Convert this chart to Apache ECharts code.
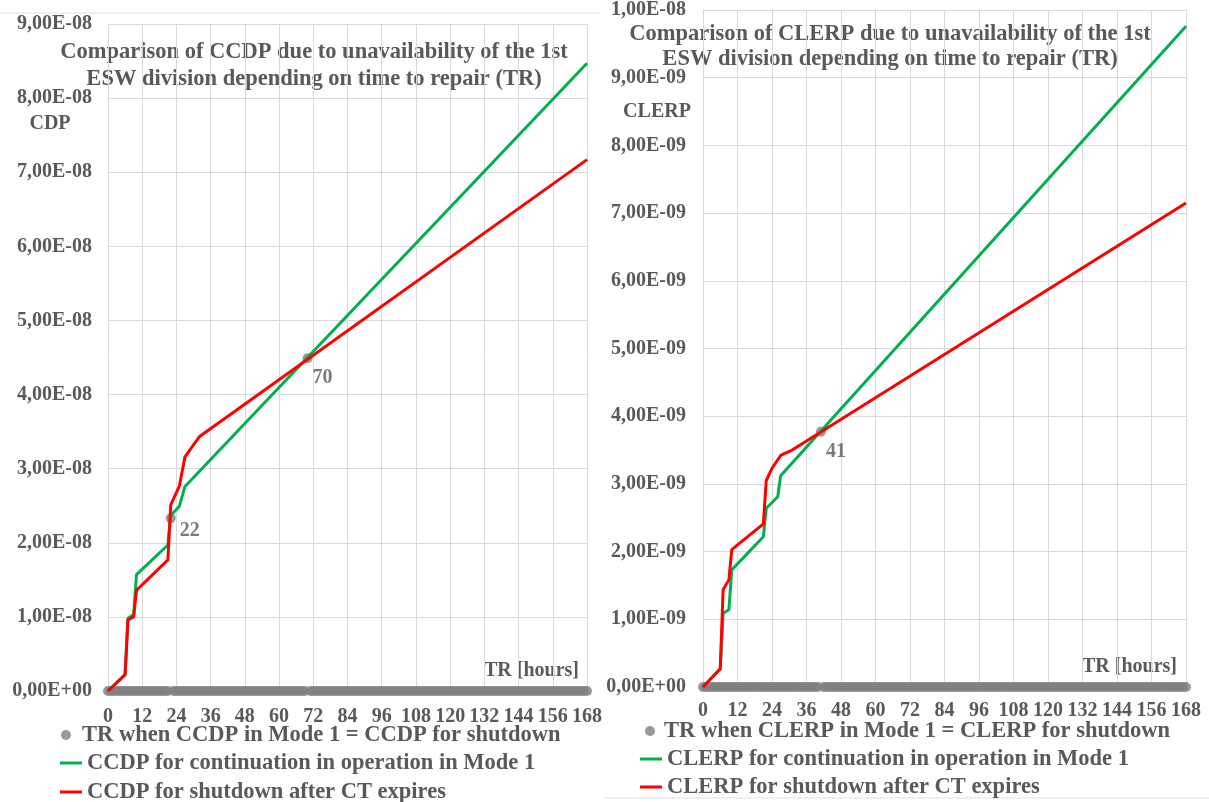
<!DOCTYPE html>
<html>
<head>
<meta charset="utf-8">
<script src="https://cdn.jsdelivr.net/npm/echarts@6/dist/echarts.min.js"></script>
<style>html,body{margin:0;padding:0;background:#fff}#c{width:1209px;height:802px}</style>
</head>
<body>
<div id="c"></div>
<script>
// ---------- DATA ----------
// Left chart: CCDP [-]
const ccdpGreenHours = [0, 6, 7, 9, 10, 21, 22, 25, 27, 168];
const ccdpGreen = [0, 0.22e-8, 0.98e-8, 1.03e-8, 1.57e-8, 1.97e-8, 2.37e-8, 2.49e-8, 2.76e-8, 8.47e-8];
const ccdpRedHours = [0, 6, 7, 9, 10, 21, 22, 25, 27, 32, 168];
const ccdpRed = [0, 0.22e-8, 0.96e-8, 1.00e-8, 1.36e-8, 1.77e-8, 2.51e-8, 2.76e-8, 3.16e-8, 3.43e-8, 7.17e-8];

// Right chart: CLERP [-]
const clerpGreenHours = [0, 6, 7, 9, 10, 21, 22, 26, 27, 168];
const clerpGreen = [0, 0.27e-9, 1.09e-9, 1.14e-9, 1.73e-9, 2.22e-9, 2.64e-9, 2.81e-9, 3.12e-9, 9.76e-9];
const clerpRedHours = [0, 6, 7, 9, 10, 21, 22, 24, 27, 31, 168];
const clerpRed = [0, 0.27e-9, 1.44e-9, 1.58e-9, 2.03e-9, 2.41e-9, 3.05e-9, 3.23e-9, 3.42e-9, 3.50e-9, 7.15e-9];

// "TR when ... in Mode 1 = ... for shutdown" marker series (hourly)
const eqHours = [
  0,1,2,3,4,5,6,7,8,9,10,11,
  12,13,14,15,16,17,18,19,20,21,22,23,
  24,25,26,27,28,29,30,31,32,33,34,35,
  36,37,38,39,40,41,42,43,44,45,46,47,
  48,49,50,51,52,53,54,55,56,57,58,59,
  60,61,62,63,64,65,66,67,68,69,70,71,
  72,73,74,75,76,77,78,79,80,81,82,83,
  84,85,86,87,88,89,90,91,92,93,94,95,
  96,97,98,99,100,101,102,103,104,105,106,107,
  108,109,110,111,112,113,114,115,116,117,118,119,
  120,121,122,123,124,125,126,127,128,129,130,131,
  132,133,134,135,136,137,138,139,140,141,142,143,
  144,145,146,147,148,149,150,151,152,153,154,155,
  156,157,158,159,160,161,162,163,164,165,166,167,
  168
];
const ccdpEqual = [
  0,0,0,0,0,0,0,0,0,0,0,0,
  0,0,0,0,0,0,0,0,0,0,2.33e-8,0,
  0,0,0,0,0,0,0,0,0,0,0,0,
  0,0,0,0,0,0,0,0,0,0,0,0,
  0,0,0,0,0,0,0,0,0,0,0,0,
  0,0,0,0,0,0,0,0,0,0,4.49e-8,0,
  0,0,0,0,0,0,0,0,0,0,0,0,
  0,0,0,0,0,0,0,0,0,0,0,0,
  0,0,0,0,0,0,0,0,0,0,0,0,
  0,0,0,0,0,0,0,0,0,0,0,0,
  0,0,0,0,0,0,0,0,0,0,0,0,
  0,0,0,0,0,0,0,0,0,0,0,0,
  0,0,0,0,0,0,0,0,0,0,0,0,
  0,0,0,0,0,0,0,0,0,0,0,0,
  0
];
const clerpEqual = [
  0,0,0,0,0,0,0,0,0,0,0,0,
  0,0,0,0,0,0,0,0,0,0,0,0,
  0,0,0,0,0,0,0,0,0,0,0,0,
  0,0,0,0,0,3.77e-9,0,0,0,0,0,0,
  0,0,0,0,0,0,0,0,0,0,0,0,
  0,0,0,0,0,0,0,0,0,0,0,0,
  0,0,0,0,0,0,0,0,0,0,0,0,
  0,0,0,0,0,0,0,0,0,0,0,0,
  0,0,0,0,0,0,0,0,0,0,0,0,
  0,0,0,0,0,0,0,0,0,0,0,0,
  0,0,0,0,0,0,0,0,0,0,0,0,
  0,0,0,0,0,0,0,0,0,0,0,0,
  0,0,0,0,0,0,0,0,0,0,0,0,
  0,0,0,0,0,0,0,0,0,0,0,0,
  0
];

const names = {
  ccdpEq: 'TR when CCDP in Mode 1 = CCDP for shutdown',
  ccdpGreen: 'CCDP for continuation in operation in Mode 1',
  ccdpRed: 'CCDP for shutdown after CT expires',
  clerpEq: 'TR when CLERP in Mode 1 = CLERP for shutdown',
  clerpGreen: 'CLERP for continuation in operation in Mode 1',
  clerpRed: 'CLERP for shutdown after CT expires'
};
const titles = {
  left: ['Comparison of CCDP due to unavailability of the 1st', 'ESW division depending on time to repair (TR)'],
  right: ['Comparison of CLERP due to unavailability of the 1st', 'ESW division depending on time to repair (TR)']
};

// ---------- STYLE ----------
const FONT = "'Liberation Serif', 'Times New Roman', serif";
const TXT = '#595959';
const GRID = '#d9d9d9';
const GREEN = '#00b050';
const RED = '#ff0000';
const GREY = '#7f7f7f';

function sci(v) {
  if (v === 0) return '0,00E+00';
  let e = Math.floor(Math.log10(Math.abs(v)) + 1e-9);
  let m = v / Math.pow(10, e);
  if (Math.abs(m) >= 9.995) { m /= 10; e += 1; }
  return m.toFixed(2).replace('.', ',') + 'E' + (e < 0 ? '-' : '+') + String(Math.abs(e)).padStart(2, '0');
}
function pairs(xs, ys) { return xs.map((x, i) => [x, ys[i]]); }
function eqData(vals, labelPos) {
  return eqHours.map((h, i) => {
    const v = vals[i];
    if (v > 0) {
      return { value: [h, v], label: { show: true, position: labelPos(h), formatter: String(h),
        color: TXT, fontFamily: FONT, fontWeight: 'bold', fontSize: 20, align: 'center', verticalAlign: 'middle' } };
    }
    return [h, v];
  });
}

const axisX = (gi, margin) => ({
  type: 'value', gridIndex: gi, min: 0, max: 168, interval: 12,
  axisLine: { show: true, lineStyle: { color: GRID, width: 1 } },
  axisTick: { show: false },
  splitLine: { show: true, lineStyle: { color: GRID, width: 1 } },
  axisLabel: { color: TXT, fontFamily: FONT, fontWeight: 'bold', fontSize: 20, margin: margin }
});
const axisY = (gi, max, interval, margin) => ({
  type: 'value', gridIndex: gi, min: 0, max: max, interval: interval,
  axisLine: { show: true, lineStyle: { color: GRID, width: 1 } },
  axisTick: { show: false },
  splitLine: { show: true, lineStyle: { color: GRID, width: 1 } },
  axisLabel: { color: TXT, fontFamily: FONT, fontWeight: 'bold', fontSize: 20, margin: margin, formatter: sci }
});

const lineSeries = (name, data, color, axis, z) => ({
  name, type: 'line', xAxisIndex: axis, yAxisIndex: axis, data,
  showSymbol: false, symbol: 'none', color,
  lineStyle: { color, width: 3 }, z, silent: true, emphasis: { disabled: true }
});
const eqSeries = (name, data, axis) => ({
  name, type: 'scatter', xAxisIndex: axis, yAxisIndex: axis, data,
  symbol: 'circle', symbolSize: 10, color: GREY, itemStyle: { color: GREY },
  z: 2, silent: true, emphasis: { disabled: true }
});

const legendText = { color: TXT, fontFamily: FONT, fontWeight: 'bold', fontSize: 22.5, lineHeight: 24 };
const txt = (x, y, text, size, align) => ({
  type: 'text', x, y, silent: true,
  style: { text, fill: TXT, font: 'bold ' + size + 'px ' + FONT, textAlign: align || 'center', textVerticalAlign: 'middle' }
});

const option = {
  animation: false,
  backgroundColor: '#ffffff',
  grid: [
    { left: 108, top: 24, width: 479, height: 667, containLabel: false },
    { left: 703, top: 10, width: 483, height: 677, containLabel: false }
  ],
  xAxis: [axisX(0, 16), axisX(1, 14)],
  yAxis: [axisY(0, 9e-8, 1e-8, 16), axisY(1, 1e-8, 1e-9, 17)],
  legend: [
    { data: [{ name: names.ccdpEq, icon: 'circle' }], left: 61, top: 723, orient: 'vertical', padding: 0,
      width: 540, height: 30, itemWidth: 22, itemHeight: 10, textStyle: legendText, selectedMode: false },
    { data: [{ name: names.ccdpGreen, icon: 'rect' }, { name: names.ccdpRed, icon: 'rect' }], left: 60, top: 751,
      width: 540, height: 80, orient: 'vertical', padding: 0, itemGap: 5, itemWidth: 22, itemHeight: 3,
      textStyle: legendText, selectedMode: false },
    { data: [{ name: names.clerpEq, icon: 'circle' }], left: 645, top: 719, orient: 'vertical', padding: 0,
      width: 560, height: 30, itemWidth: 18, itemHeight: 10, textStyle: legendText, selectedMode: false },
    { data: [{ name: names.clerpGreen, icon: 'rect' }, { name: names.clerpRed, icon: 'rect' }], left: 640, top: 747,
      width: 560, height: 80, orient: 'vertical', padding: 0, itemGap: 4, itemWidth: 22, itemHeight: 3,
      textStyle: legendText, selectedMode: false }
  ],
  graphic: [
    { type: 'line', silent: true, shape: { x1: 0, y1: 13, x2: 600, y2: 13 }, style: { stroke: '#e0e0e0', lineWidth: 1 } },
    { type: 'line', silent: true, shape: { x1: 604, y1: 798, x2: 1209, y2: 798 }, style: { stroke: '#e0e0e0', lineWidth: 1 } },
    txt(314, 52, titles.left[0], 22.5),
    txt(314, 79, titles.left[1], 22.5),
    txt(890, 34, titles.right[0], 22.5),
    txt(890, 59, titles.right[1], 22.5),
    txt(50, 124, 'CDP', 20),
    txt(657, 112, 'CLERP', 20),
    txt(579, 671, 'TR [hours]', 20, 'right'),
    txt(1177, 667, 'TR [hours]', 20, 'right')
  ],
  series: [
    eqSeries(names.ccdpEq, eqData(ccdpEqual, h => h === 22 ? [24, 18] : [20, 25]), 0),
    lineSeries(names.ccdpGreen, pairs(ccdpGreenHours, ccdpGreen), GREEN, 0, 3),
    lineSeries(names.ccdpRed, pairs(ccdpRedHours, ccdpRed), RED, 0, 4),
    eqSeries(names.clerpEq, eqData(clerpEqual, h => [20, 25]), 1),
    lineSeries(names.clerpGreen, pairs(clerpGreenHours, clerpGreen), GREEN, 1, 3),
    lineSeries(names.clerpRed, pairs(clerpRedHours, clerpRed), RED, 1, 4)
  ]
};

const chart = echarts.init(document.getElementById('c'), null, { renderer: 'canvas' });
chart.setOption(option);
</script>
</body>
</html>
